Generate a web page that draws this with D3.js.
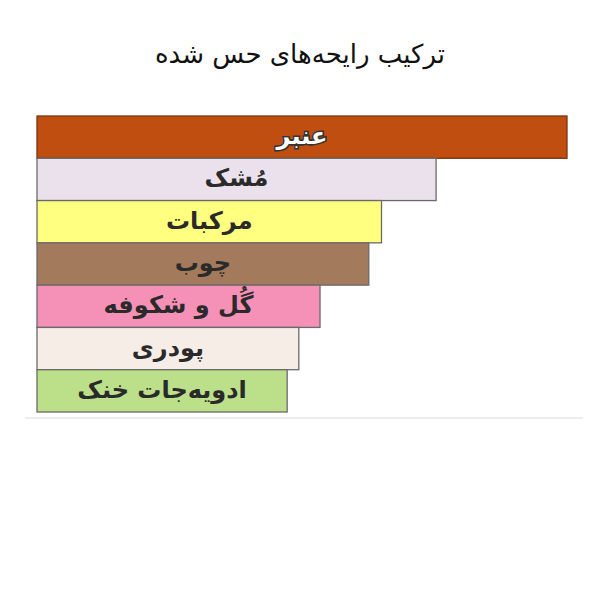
<!DOCTYPE html>
<html><head><meta charset="utf-8">
<script src="https://cdn.jsdelivr.net/npm/d3@7"></script>
<style>body{margin:0;background:#fff}</style>
</head><body>
<svg id="c" width="600" height="600"></svg>
<script>
const categories = ["عنبر","مُشک","مرکبات","چوب","گُل و شکوفه","پودری","ادویه‌جات خنک"];
const values = [100, 75.3, 65, 62.6, 53.4, 49.4, 47.2];
const colors = ["#BF4E10","#EAE1EC","#FFFF80","#A47A5C","#F590B6","#F6EEE6","#BCE08A"];
const title = "ترکیب رایحه‌های حس شده";

const svg = d3.select("#c");
svg.append("rect").attr("width",600).attr("height",600).attr("fill","#fff");
const x = d3.scaleLinear().domain([0,100]).range([37,567]);
const y = d3.scaleBand().domain(categories).range([116,412]).padding(0);

svg.append("line").attr("x1",25).attr("x2",583).attr("y1",418).attr("y2",418)
  .attr("stroke","#eeeeee").attr("stroke-width",2);

svg.selectAll("rect.bar").data(categories).join("rect").attr("class","bar")
  .attr("x",x(0)).attr("y",d=>y(d))
  .attr("width",(d,i)=>x(values[i])-x(0)).attr("height",y.bandwidth())
  .attr("fill",(d,i)=>colors[i])
  .attr("stroke",(d,i)=> i===0 ? "#7a3510" : "#6a6a6a").attr("stroke-width",1.3);

svg.selectAll("text.lbl").data(categories).join("text").attr("class","lbl")
  .attr("x",(d,i)=>(x(0)+x(values[i]))/2).attr("y",d=>y(d)+y.bandwidth()/2+7)
  .attr("text-anchor","middle").attr("direction","rtl")
  .style("font-family","'DejaVu Sans'").style("font-weight","bold").style("font-size","24px")
  .attr("fill",(d,i)=> i===0 ? "#fff" : "#2a2a2a")
  .attr("stroke",(d,i)=> i===0 ? "#333" : "none").attr("stroke-width",3)
  .attr("paint-order","stroke")
  .text(d=>d);

svg.append("text").attr("x",300).attr("y",63).attr("text-anchor","middle")
  .style("font-family","'DejaVu Sans'").style("font-size","26px").attr("fill","#111")
  .text(title);
</script>
</body></html>
